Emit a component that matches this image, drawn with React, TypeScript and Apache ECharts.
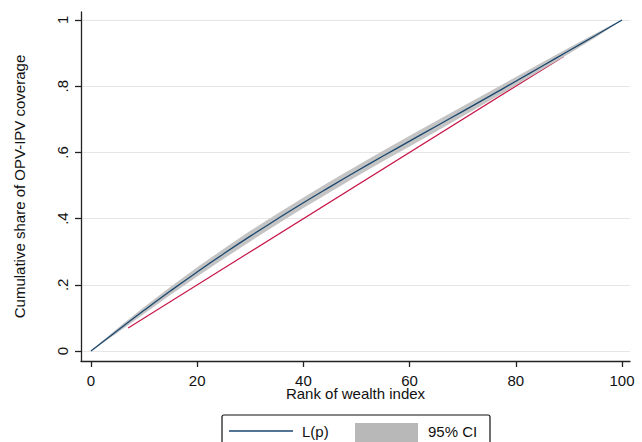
import React, { useEffect, useRef } from "react";
import * as echarts from "echarts";

// Rank of wealth index (percentile)
const rank = [0, 5, 10, 15, 20, 25, 30, 35, 40, 45, 50, 55, 60, 65, 70, 75, 80, 85, 90, 95, 100];
// Concentration curve L(p)
const lp = [0, 0.062, 0.123, 0.182, 0.239, 0.294, 0.347, 0.398, 0.448, 0.496, 0.543, 0.589, 0.634, 0.679, 0.724, 0.769, 0.815, 0.861, 0.907, 0.953, 1];
// 95% CI bounds
const ciLow = [0, 0.055, 0.113, 0.17, 0.225, 0.279, 0.331, 0.382, 0.432, 0.48, 0.527, 0.573, 0.618, 0.663, 0.709, 0.755, 0.802, 0.85, 0.898, 0.947, 0.999];
const ciHigh = [0.001, 0.069, 0.133, 0.194, 0.253, 0.309, 0.363, 0.414, 0.464, 0.512, 0.559, 0.605, 0.65, 0.695, 0.739, 0.783, 0.828, 0.872, 0.916, 0.959, 1.001];
// Line of equality (visible segment)
const eqX = [7, 89];
const eqY = [0.07, 0.89];

const xTicks = [0, 20, 40, 60, 80, 100];
const yTicks = [0, 0.2, 0.4, 0.6, 0.8, 1];

const FONT = "Liberation Sans, Arial, sans-serif";

export default function App() {
  const ref = useRef<HTMLDivElement>(null);
  useEffect(() => {
    if (!ref.current) return;
    const chart = echarts.init(ref.current, undefined, { renderer: "svg" });
    const fmtY = (v: number) => (v === 0 ? "0" : v === 1 ? "1" : String(+v.toFixed(1)).replace(/^0\./, "."));
    chart.setOption({
      animation: false,
      backgroundColor: "#ffffff",
      textStyle: { fontFamily: FONT },
      grid: { left: 81, right: 12, top: 12, bottom: 81, containLabel: false },
      xAxis: {
        type: "value",
        min: -1.88,
        max: 101.5,
        name: "Rank of wealth index",
        nameLocation: "middle",
        nameGap: 25,
        nameMoveOverlap: false,
        nameTextStyle: { fontFamily: FONT, fontSize: 15, color: "#111" },
        axisLine: { show: true, onZero: false, lineStyle: { color: "#222", width: 1.3 } },
        axisTick: { show: true, length: 6, customValues: xTicks, lineStyle: { color: "#222", width: 1.3 } },
        axisLabel: { customValues: xTicks, fontFamily: FONT, fontSize: 15, color: "#111", margin: 12 },
        splitLine: { show: false },
      },
      yAxis: {
        type: "value",
        min: -0.03,
        max: 1.024,
        name: "Cumulative share of OPV-IPV coverage",
        nameLocation: "middle",
        nameGap: 54,
        nameMoveOverlap: false,
        nameTextStyle: { fontFamily: FONT, fontSize: 15, color: "#111" },
        axisLine: { show: true, onZero: false, lineStyle: { color: "#222", width: 1.3 } },
        axisTick: { show: true, length: 6, customValues: yTicks, lineStyle: { color: "#222", width: 1.3 } },
        axisLabel: {
          customValues: yTicks,
          rotate: 90,
          fontFamily: FONT,
          fontSize: 15,
          color: "#111",
          margin: 11,
          formatter: fmtY,
        },
        splitLine: { show: true, lineStyle: { color: "#e6e6e6", width: 1 } },
      },
      series: [
        {
          type: "line",
          name: "eq",
          data: eqX.map((x, i) => [x, eqY[i]]),
          showSymbol: false,
          lineStyle: { color: "#c8174a", width: 1.2 },
          z: 2,
        },
        {
          type: "custom",
          name: "95% CI",
          data: [[0, 0]],
          z: 3,
          silent: true,
          renderItem: (_params: any, api: any) => {
            const upper = rank.map((x, i) => api.coord([x, ciHigh[i]]));
            const lower = rank.map((x, i) => api.coord([x, ciLow[i]])).reverse();
            return {
              type: "polygon",
              shape: { points: upper.concat(lower) },
              style: { fill: "#c4c4c4", stroke: "none" },
            };
          },
        },
        {
          type: "line",
          name: "L(p)",
          data: rank.map((x, i) => [x, lp[i]]),
          showSymbol: false,
          smooth: true,
          lineStyle: { color: "#1a476f", width: 1.3 },
          z: 4,
        },
      ],
      graphic: [
        {
          type: "rect",
          shape: { x: 222, y: 415, width: 268, height: 40, r: 2 },
          style: { fill: "#fff", stroke: "#111", lineWidth: 1.2 },
        },
        {
          type: "line",
          shape: { x1: 229, y1: 431, x2: 293, y2: 431 },
          style: { stroke: "#1a476f", lineWidth: 1.5 },
        },
        {
          type: "text",
          x: 302,
          y: 431,
          style: { text: "L(p)", font: `15px ${FONT}`, fill: "#111", verticalAlign: "middle", align: "left" },
        },
        {
          type: "rect",
          shape: { x: 355, y: 423, width: 63, height: 22 },
          style: { fill: "#b8b8b8" },
        },
        {
          type: "text",
          x: 428,
          y: 431,
          style: { text: "95% CI", font: `15px ${FONT}`, fill: "#111", verticalAlign: "middle", align: "left" },
        },
      ],
    });
    return () => chart.dispose();
  }, []);
  return <div ref={ref} style={{ position: "fixed", left: 0, top: 0, width: 642, height: 442 }} />;
}
